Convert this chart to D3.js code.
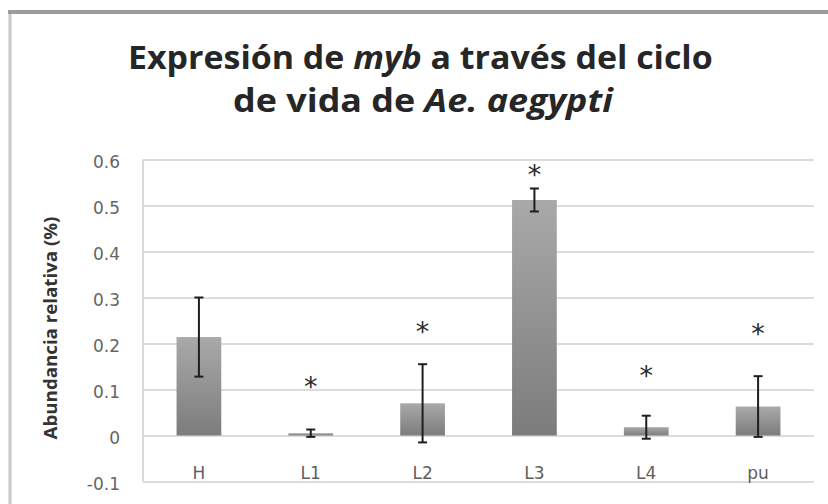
<!DOCTYPE html>
<html>
<head>
<meta charset="utf-8">
<script src="https://cdn.jsdelivr.net/npm/d3@7/dist/d3.min.js"></script>
<style>
  html, body { margin: 0; padding: 0; background: #fff; }
  svg { display: block; }
</style>
</head>
<body>
<script>
// ---- data ----
const categories = ["H", "L1", "L2", "L3", "L4", "pu"];
const values     = [0.214, 0.005, 0.070, 0.512, 0.018, 0.063];
const errors     = [0.086, 0.008, 0.085, 0.025, 0.025, 0.066];
const sigMark    = [null, 0.115, 0.233, 0.574, 0.137, 0.230]; // level of "*" annotation
const yTicks     = [-0.1, 0, 0.1, 0.2, 0.3, 0.4, 0.5, 0.6];
const yTickLabels = ["-0.1", "0", "0.1", "0.2", "0.3", "0.4", "0.5", "0.6"];
const titleLine1 = [["Expresión de ", false], ["myb", true], [" a través del ciclo", false]];
const titleLine2 = [["de vida de ", false], ["Ae. aegypti", true]];
const yAxisTitle = "Abundancia relativa (%)";

const W = 828, H = 504;
const plot = { left: 143, right: 814, top: 159.5, bottom: 481.5 };

const svg = d3.select("body").append("svg").attr("width", W).attr("height", H);

// gradient for bars
const defs = svg.append("defs");
const grad = defs.append("linearGradient").attr("id", "barGrad")
  .attr("x1", 0).attr("y1", 0).attr("x2", 0).attr("y2", 1);
grad.append("stop").attr("offset", "0%").attr("stop-color", "#a9a9a9");
grad.append("stop").attr("offset", "100%").attr("stop-color", "#7c7c7c");
const blur = defs.append("filter").attr("id", "soft").attr("x", "-20%").attr("y", "-20%").attr("width", "140%").attr("height", "140%");
blur.append("feGaussianBlur").attr("stdDeviation", 0.6);

// frame
svg.append("line").attr("x1", 10).attr("x2", 10).attr("y1", 12).attr("y2", H + 5)
  .attr("stroke", "#c8c8c8").attr("stroke-width", 3);
svg.append("line").attr("x1", 8).attr("x2", W + 5).attr("y1", 12).attr("y2", 12)
  .attr("stroke", "#9c9c9c").attr("stroke-width", 4);

// scales
const x = d3.scaleBand().domain(categories).range([plot.left, plot.right])
  .paddingInner(0.6).paddingOuter(0.3);
const y = d3.scaleLinear().domain([-0.1, 0.6]).range([plot.bottom, plot.top]);

// gridlines + y tick labels
const yAxis = d3.axisLeft(y).tickValues(yTicks).tickSize(-(plot.right - plot.left))
  .tickFormat((d, i) => yTickLabels[i]).tickPadding(23);
const gy = svg.append("g").attr("transform", `translate(${plot.left},0)`).call(yAxis);
gy.select(".domain").remove();
gy.selectAll(".tick line").attr("stroke", "#d0d0d0").attr("stroke-width", 1.6);
gy.selectAll(".tick text")
  .attr("font-family", "DejaVu Sans, Verdana, sans-serif")
  .attr("font-size", 17).attr("fill", "#656565").attr("dy", "0.48em");

// left vertical line of plot area
svg.append("line").attr("x1", plot.left).attr("x2", plot.left)
  .attr("y1", plot.top).attr("y2", plot.bottom)
  .attr("stroke", "#d0d0d0").attr("stroke-width", 1.6);

// x labels
const xAxis = d3.axisBottom(x).tickSize(0).tickPadding(0);
const gx = svg.append("g").attr("transform", `translate(0,${plot.bottom})`).call(xAxis);
gx.select(".domain").remove();
gx.selectAll(".tick text")
  .attr("font-family", "DejaVu Sans, Verdana, sans-serif")
  .attr("font-size", 17).attr("fill", "#5f5f5f")
  .attr("y", -2.5).attr("dy", 0);

// bars
const data = categories.map((c, i) => ({ c, v: values[i], e: errors[i], s: sigMark[i] }));
svg.append("g").selectAll("rect").data(data).join("rect")
  .attr("x", d => x(d.c))
  .attr("width", x.bandwidth())
  .attr("y", d => y(Math.max(0, d.v)))
  .attr("height", d => Math.abs(y(d.v) - y(0)))
  .attr("fill", "url(#barGrad)")
  .attr("filter", "url(#soft)");

// error bars
const eg = svg.append("g").attr("stroke", "#1e1e1e").attr("stroke-width", 2);
const cx = d => x(d.c) + x.bandwidth() / 2;
const cap = 4.5;
eg.selectAll(".ev").data(data).join("line")
  .attr("x1", cx).attr("x2", cx)
  .attr("y1", d => y(d.v + d.e)).attr("y2", d => y(d.v - d.e));
eg.selectAll(".et").data(data).join("line")
  .attr("x1", d => cx(d) - cap).attr("x2", d => cx(d) + cap)
  .attr("y1", d => y(d.v + d.e)).attr("y2", d => y(d.v + d.e));
eg.selectAll(".eb").data(data).join("line")
  .attr("x1", d => cx(d) - cap).attr("x2", d => cx(d) + cap)
  .attr("y1", d => y(d.v - d.e)).attr("y2", d => y(d.v - d.e));

// significance asterisks
svg.append("g").selectAll("text").data(data.filter(d => d.s !== null)).join("text")
  .attr("x", cx)
  .attr("y", d => y(d.s) + 13)
  .attr("text-anchor", "middle")
  .attr("font-family", "DejaVu Sans, sans-serif")
  .attr("font-size", 27)
  .attr("fill", "#2a2a2a")
  .text("*");

// title (two lines with italic parts), horizontally fitted
function titleLine(parts, baseline, left, right) {
  const t = svg.append("text")
    .attr("font-family", "Open Sans, Noto Sans, sans-serif")
    .attr("font-weight", 700).attr("font-size", 32).attr("fill", "#262626")
    .attr("x", 0).attr("y", 0);
  parts.forEach(([s, it]) => t.append("tspan").attr("font-style", it ? "italic" : "normal").text(s));
  const w = t.node().getComputedTextLength();
  const k = (right - left) / w;
  t.attr("transform", `translate(${left},${baseline}) scale(${k},1)`);
}
titleLine(titleLine1, 69, 128, 713);
titleLine(titleLine2, 112, 233, 613);

// y axis title
const at = svg.append("text")
  .attr("font-family", "Open Sans, Noto Sans, sans-serif")
  .attr("font-weight", 700).attr("font-size", 17).attr("fill", "#333")
  .attr("text-anchor", "middle").text(yAxisTitle);
const aw = at.node().getComputedTextLength();
at.attr("transform", `translate(57,328) rotate(-90) scale(${223 / aw},1)`);
</script>
</body>
</html>
